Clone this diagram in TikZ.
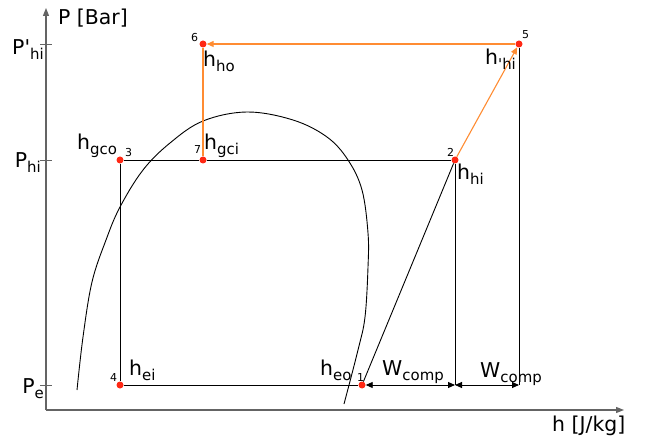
\documentclass[tikz,border=0pt]{standalone}
\usepackage{fontspec}
\setmainfont{DejaVu Sans}[Ligatures=TeXOff]
\usetikzlibrary{arrows.meta}
\definecolor{dotred}{RGB}{255,40,20}
\definecolor{cycorange}{RGB}{255,140,50}
\definecolor{axisgray}{RGB}{100,100,100}
\newcommand\subx[1]{\raisebox{-5bp}{\fontsize{15}{15}\selectfont #1}}
\begin{document}
\begin{tikzpicture}[x=1bp,y=-1bp,
  pt/.style={circle,fill=dotred,inner sep=0,minimum size=7bp},
  lbl/.style={font=\fontsize{20.5}{22}\selectfont,inner sep=0},
  num/.style={font=\fontsize{11}{12}\selectfont,inner sep=0},
  ax/.style={draw=axisgray,line width=1.2bp},
  ln/.style={line width=0.9bp},
  cyc/.style={draw=cycorange,line width=1.1bp},
  dimline/.style={line width=0.9bp,{Triangle[length=7bp,width=6bp]}-{Triangle[length=7bp,width=6bp]}}
]
\useasboundingbox (0,0) rectangle (649,439);
% axes
\coordinate (O) at (46,410);
\coordinate (ytop) at (46,8);
\coordinate (xend) at (624,410);
\draw[ax,-{Triangle[length=8bp,width=6bp]}] (O) -- (ytop);
\draw[ax,-{Triangle[length=8bp,width=6bp]}] (O) -- (xend);
% ticks
\coordinate (t1a) at (40,44);  \coordinate (t1b) at (52,44);
\coordinate (t2a) at (40,160); \coordinate (t2b) at (52,160);
\coordinate (t3a) at (40,385); \coordinate (t3b) at (52,385);
\draw[ax,line width=0.9bp] (t1a) -- (t1b) (t2a) -- (t2b) (t3a) -- (t3b);
% dome
\draw[ln] plot[smooth,tension=0.6] coordinates {(77,390) (83,337) (92,282) (106,240) (120,207) (143,170) (170,143) (203,121) (247,112) (293,120) (327,137) (348,160) (362,190) (368,233) (368,267) (365,317) (358,350) (344,404)};
% points
\node[pt] (p1) at (362,385) {};
\node[pt] (p2) at (455,160) {};
\node[pt] (p3) at (120,160) {};
\node[pt] (p4) at (120,385) {};
\node[pt] (p5) at (519,44) {};
\node[pt] (p6) at (203,44) {};
\node[pt] (p7) at (203,160) {};
\coordinate (d2) at (455,385);
\coordinate (d5) at (519,385);
% cycle lines
\draw[ln] (p3) -- (p7) -- (p2);
\draw[ln] (p3) -- (p4) -- (p1);
\draw[ln] (p1) -- (p2);
\draw[ln] (p2) -- (d2);
\draw[ln] (p5) -- (d5);
\draw[cyc,-{Triangle[length=7bp,width=6bp]}] (p2) -- (p5);
\draw[cyc,-{Triangle[length=7bp,width=6bp]}] (p5) -- (p6);
\draw[cyc] (p6) -- (p7);
\draw[dimline] (p1) -- (d2);
\draw[dimline] (d2) -- (d5);
% axis labels
\node[lbl,anchor=base west] (ly) at (58,25) {P [Bar]};
\node[lbl,anchor=base west] (lx) at (552,431) {h [J/kg]};
\node[lbl,anchor=base east] (lp1) at (44,55) {P'\subx{hi}};
\node[lbl,anchor=base east] (lp2) at (41,168) {P\subx{hi}};
\node[lbl,anchor=base east] (lp3) at (44,393) {P\subx{e}};
% point labels
\node[lbl,anchor=base west] (lho) at (203,67) {h\subx{ho}};
\node[lbl,anchor=base west] (lgco) at (77,150) {h\subx{gco}};
\node[lbl,anchor=base west] (lgci) at (204,150) {h\subx{gci}};
\node[lbl,anchor=base west] (lhip) at (485,65) {h\subx{'hi}};
\node[lbl,anchor=base west] (lhi) at (457,180) {h\subx{hi}};
\node[lbl,anchor=base west] (lei) at (129,375) {h\subx{ei}};
\node[lbl,anchor=base west] (leo) at (320,375) {h\subx{eo}};
\node[lbl,anchor=base west] (lw1) at (382,375) {W\subx{comp}};
\node[lbl,anchor=base west] (lw2) at (480,377) {W\subx{comp}};
% numbers
\node[num,anchor=base west] (n1) at (357,381) {1};
\node[num,anchor=base west] (n2) at (447,157) {2};
\node[num,anchor=base west] (n3) at (125,157) {3};
\node[num,anchor=base west] (n4) at (110,381) {4};
\node[num,anchor=base west] (n5) at (522,39) {5};
\node[num,anchor=base west] (n6) at (191,42) {6};
\node[num,anchor=base west] (n7) at (194,154) {7};
\end{tikzpicture}
\end{document}
